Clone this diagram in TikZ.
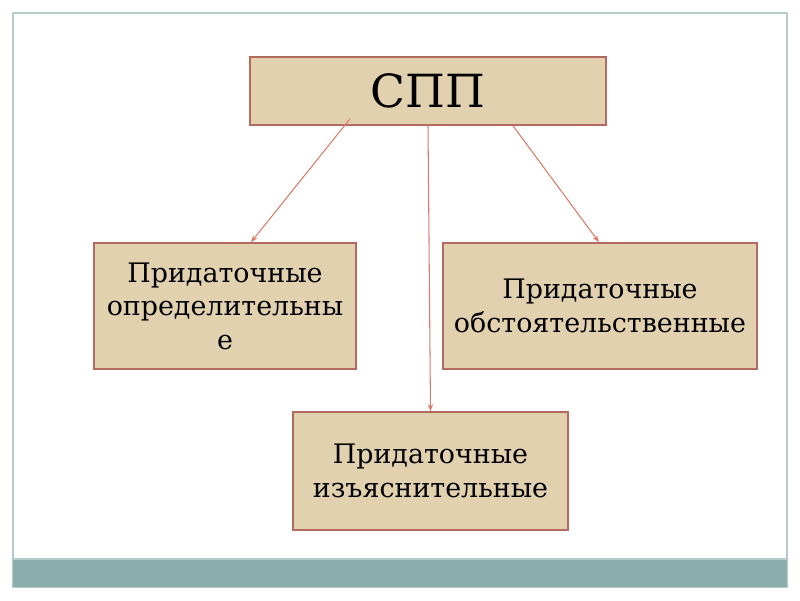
\documentclass[tikz,border=0pt]{standalone}
\usepackage{fontspec}
\setmainfont{DejaVu Serif}
\usetikzlibrary{arrows.meta,calc}
\definecolor{boxfill}{HTML}{E1D1AF}
\definecolor{boxline}{HTML}{B46A5E}
\definecolor{linkcol}{HTML}{D97B6A}
\definecolor{bandcol}{HTML}{8DADAD}
\definecolor{framecol}{HTML}{B7CBCB}
\tikzset{
	pbox/.style={draw=boxline, fill=boxfill, line width=0.9pt, align=center,
		inner sep=2pt, font=\fontsize{15.3}{19}\selectfont},
	link/.style={draw=linkcol, line width=0.6pt, -{Stealth[length=4pt,width=3pt]}}
}

\begin{document}
\begin{tikzpicture}[x=0.02cm,y=-0.02cm]
	\useasboundingbox (0,0) rectangle (800,600);
	% slide frame and bottom band
	\draw[framecol, line width=0.8pt] (13,13) rectangle (787,587);
	\fill[bandcol] (13,559) rectangle (787,587);
	\draw[framecol, line width=0.6pt] (13,559) -- (787,559);
	% boxes
	\node[pbox, minimum width=7.12cm, minimum height=1.36cm, font=\fontsize{26}{32}\selectfont] (spp) at (428,91) {СПП};
	\node[pbox, minimum width=5.24cm, minimum height=2.52cm] (defin) at (225,306) {Придаточные\\определительны\\е};
	\node[pbox, minimum width=6.28cm, minimum height=2.52cm] (circ) at (600,306) {Придаточные\\обстоятельственные};
	\node[pbox, minimum width=5.5cm, minimum height=2.36cm] (expl) at (430.5,471) {Придаточные\\изъяснительные};
	% connectors
	\draw[link] ($(spp.south)+(-78,-7)$) -- ($(defin.north)+(26,0)$);
	\draw[link] (spp.south) -- (expl.north);
	\draw[link] ($(spp.south)+(85,0)$) -- ($(circ.north)+(-1,0)$);
\end{tikzpicture}
\end{document}
